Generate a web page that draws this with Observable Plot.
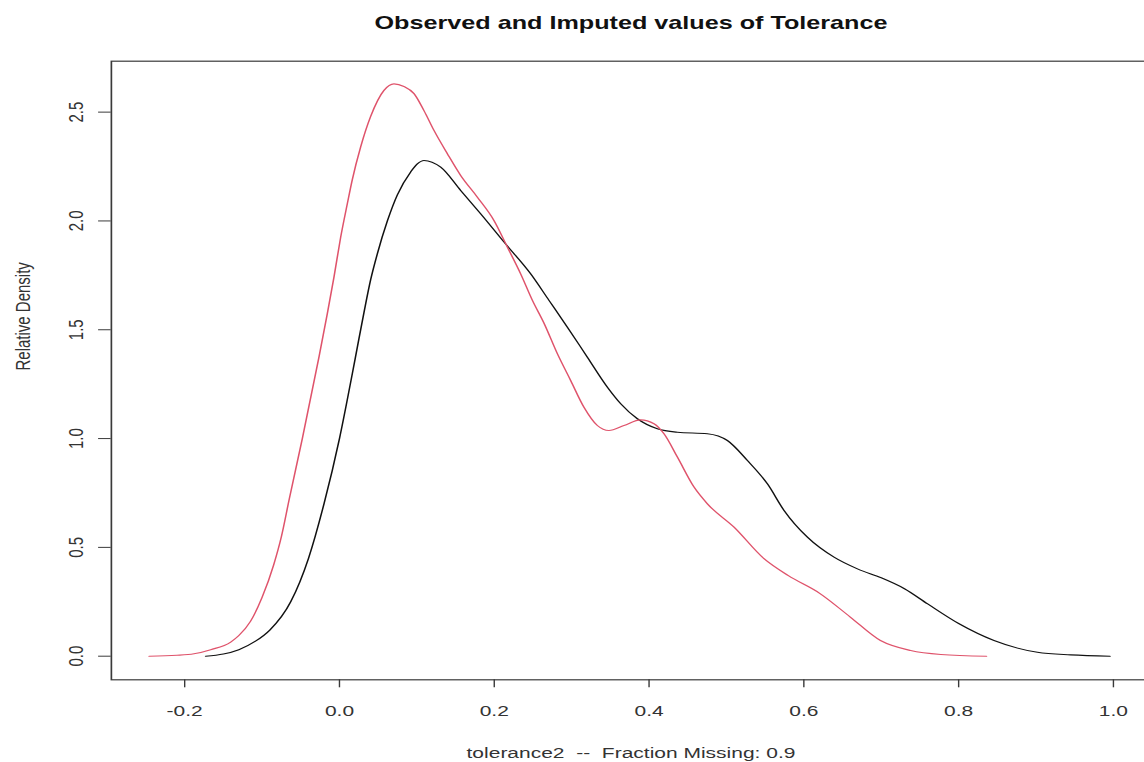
<!DOCTYPE html>
<html>
<head>
<meta charset="utf-8">
<script src="https://cdn.jsdelivr.net/npm/d3@7"></script>
<script src="https://cdn.jsdelivr.net/npm/@observablehq/plot@0.6"></script>
<style>
  html, body { margin: 0; padding: 0; background: white; overflow: hidden; }
  #chart svg { display: block; }
</style>
</head>
<body>
<div id="chart"></div>
<script>
// ---- Data ----
const titleText = "Observed and Imputed values of Tolerance";
const xLabelText = "tolerance2  --  Fraction Missing: 0.9";
const yLabelText = "Relative Density";

const xTicks = [-0.2, 0.0, 0.2, 0.4, 0.6, 0.8, 1.0];
const yTicks = [0.0, 0.5, 1.0, 1.5, 2.0, 2.5];

// Observed values (black density)
const observedX = [-0.173, -0.15, -0.13, -0.108, -0.09, -0.063, -0.04, -0.02, 0.0, 0.0167, 0.0231, 0.0317, 0.0403, 0.049, 0.0619, 0.0748, 0.092, 0.1006, 0.1092, 0.1308, 0.1566, 0.1824, 0.2126, 0.247, 0.2707, 0.2945, 0.3203, 0.3462, 0.3634, 0.3849, 0.4107, 0.4366, 0.4754, 0.5012, 0.5271, 0.5529, 0.5744, 0.6046, 0.639, 0.67, 0.7, 0.73, 0.76, 0.8, 0.8457, 0.9018, 0.9448, 0.9956];
const observedY = [0.0, 0.01, 0.03, 0.07, 0.12, 0.25, 0.45, 0.7, 1.0, 1.3, 1.42, 1.58, 1.73, 1.85, 2.0, 2.12, 2.225, 2.262, 2.278, 2.247, 2.14, 2.033, 1.903, 1.757, 1.635, 1.512, 1.374, 1.236, 1.16, 1.091, 1.045, 1.029, 1.022, 0.991, 0.899, 0.792, 0.67, 0.547, 0.455, 0.4, 0.36, 0.31, 0.24, 0.15, 0.072, 0.018, 0.006, 0.0];

// Imputed values (red density)
const imputedX = [-0.246, -0.21, -0.188, -0.1664, -0.1405, -0.13, -0.115, -0.1, -0.085, -0.075, -0.065, -0.048, -0.0265, -0.0157, -0.0071, 0.0016, 0.0102, 0.0166, 0.0274, 0.0403, 0.0575, 0.0704, 0.0833, 0.0963, 0.109, 0.1221, 0.1394, 0.1566, 0.1782, 0.1996, 0.2169, 0.2341, 0.2493, 0.2643, 0.2815, 0.2987, 0.3159, 0.3332, 0.3482, 0.3676, 0.3892, 0.4064, 0.4193, 0.4366, 0.4581, 0.4754, 0.5098, 0.5485, 0.58, 0.62, 0.66, 0.699, 0.738, 0.777, 0.836];
const imputedY = [0.0, 0.004, 0.011, 0.03, 0.065, 0.095, 0.16, 0.27, 0.42, 0.55, 0.72, 1.0, 1.374, 1.574, 1.742, 1.926, 2.08, 2.19, 2.34, 2.48, 2.6, 2.63, 2.618, 2.585, 2.508, 2.416, 2.309, 2.209, 2.109, 2.002, 1.88, 1.757, 1.635, 1.53, 1.39, 1.267, 1.144, 1.06, 1.037, 1.06, 1.086, 1.068, 1.022, 0.915, 0.777, 0.7, 0.593, 0.448, 0.37, 0.29, 0.18, 0.072, 0.026, 0.008, 0.0];

const observed = observedX.map((x, i) => ({x, y: observedY[i]}));
const imputed = imputedX.map((x, i) => ({x, y: imputedY[i]}));

// ---- Layout ----
const OUT_W = 1144, H = 762;
const STRETCH = 1.4;              // the reference is horizontally stretched
const W = OUT_W / STRETCH;        // internal drawing width
const fmt = d => d.toFixed(1);
const font = "'Liberation Sans', Arial, Helvetica, sans-serif";

const chart = Plot.plot({
  width: W,
  height: H,
  marginLeft: 79.06,
  marginRight: -4.2,
  marginTop: 60.7,
  marginBottom: 82.7,
  style: {fontFamily: font, fontSize: "15px", background: "white", color: "#222"},
  x: {domain: [-0.2947, 1.048], label: null},
  y: {domain: [-0.1085, 2.734], label: null},
  marks: [
    Plot.frame({stroke: "#3a3a3a", strokeWidth: 1.2}),
    Plot.axisX(xTicks, {tickSize: 8, tickPadding: 18, tickFormat: fmt, label: null, stroke: "#3a3a3a", fill: "#333"}),
    Plot.axisY(yTicks, {tickSize: 9, tickPadding: 11.5, tickRotate: -90, tickFormat: fmt, label: null, stroke: "#3a3a3a", fill: "#333"}),
    Plot.line(observed, {x: "x", y: "y", stroke: "#111", strokeWidth: 1.1, curve: "monotone-x"}),
    Plot.line(imputed, {x: "x", y: "y", stroke: "#DF536B", strokeWidth: 1.1, curve: "monotone-x"}),
    Plot.text([titleText], {frameAnchor: "top", lineAnchor: "bottom", dy: -32.4, fontWeight: "bold", fontSize: 18, fill: "#111"}),
    Plot.text([xLabelText], {frameAnchor: "bottom", lineAnchor: "bottom", dy: 77.7, fontSize: 15, fill: "#333"}),
    Plot.text([yLabelText], {frameAnchor: "left", rotate: -90, lineAnchor: "middle", dx: -63, fontSize: 15, fill: "#333"})
  ]
});

chart.setAttribute("width", OUT_W);
chart.setAttribute("height", H);
chart.setAttribute("preserveAspectRatio", "none");
chart.style.width = OUT_W + "px";
chart.style.height = H + "px";
chart.style.maxWidth = "none";
document.getElementById("chart").appendChild(chart);
</script>
</body>
</html>
